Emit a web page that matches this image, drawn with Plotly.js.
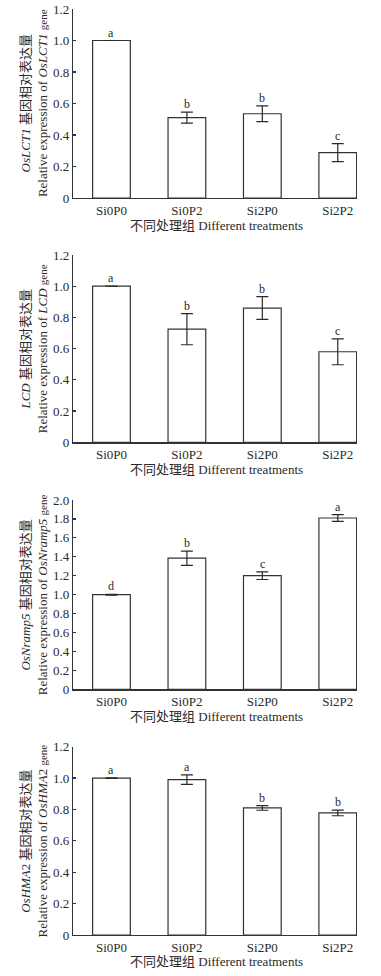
<!DOCTYPE html>
<html>
<head>
<meta charset="utf-8">
<script src="https://cdn.plot.ly/plotly-3.0.1.min.js"></script>
<style>
html,body{margin:0;padding:0;background:#fff;}
#chart{width:381px;height:976px;}
</style>
</head>
<body>
<div id="chart"></div>
<script>
const categories = ['Si0P0', 'Si0P2', 'Si2P0', 'Si2P2'];

const lct1Values = [1.00, 0.51, 0.535, 0.288];
const lct1Errors = [0, 0.035, 0.05, 0.057];
const lct1Letters = ['a', 'b', 'b', 'c'];

const lcdValues = [1.00, 0.725, 0.86, 0.58];
const lcdErrors = [0, 0.10, 0.073, 0.083];
const lcdLetters = ['a', 'b', 'b', 'c'];

const nramp5Values = [1.00, 1.385, 1.20, 1.81];
const nramp5Errors = [0.004, 0.075, 0.04, 0.035];
const nramp5Letters = ['d', 'b', 'c', 'a'];

const hma2Values = [1.00, 0.99, 0.81, 0.778];
const hma2Errors = [0.002, 0.03, 0.015, 0.018];
const hma2Letters = ['a', 'a', 'b', 'b'];

const tickVals12 = [0, 0.2, 0.4, 0.6, 0.8, 1.0, 1.2];
const tickText12 = ['0', '0.2', '0.4', '0.6', '0.8', '1.0', '1.2'];
const tickVals20 = [0, 0.2, 0.4, 0.6, 0.8, 1.0, 1.2, 1.4, 1.6, 1.8, 2.0];
const tickText20 = ['0', '0.2', '0.4', '0.6', '0.8', '1.0', '1.2', '1.4', '1.6', '1.8', '2.0'];

const yTitles = [
  '<i>OsLCT1</i> 基因相对表达量<br>Relative expression of <i>OsLCT1</i> <span style="font-size:11px">gene</span>',
  '<i>LCD</i> 基因相对表达量<br>Relative expression of <i>LCD</i> <span style="font-size:11px">gene</span>',
  '<i>OsNramp5</i> 基因相对表达量<br>Relative expression of <i>OsNramp5</i> <span style="font-size:11px">gene</span>',
  '<i>OsHMA</i>2 基因相对表达量<br>Relative expression of <i>OsHMA</i>2 <span style="font-size:11px">gene</span>'
];
const xTitle = '不同处理组 Different treatments';

const panels = [
  {v: lct1Values, e: lct1Errors, l: lct1Letters, tv: tickVals12, tt: tickText12, max: 1.2, dom: [198, 9]},
  {v: lcdValues, e: lcdErrors, l: lcdLetters, tv: tickVals12, tt: tickText12, max: 1.2, dom: [442.3, 255]},
  {v: nramp5Values, e: nramp5Errors, l: nramp5Letters, tv: tickVals20, tt: tickText20, max: 2.0, dom: [689.3, 500]},
  {v: hma2Values, e: hma2Errors, l: hma2Letters, tv: tickVals12, tt: tickText12, max: 1.2, dom: [935, 746.7]}
];

const H = 976;
const FONT = "'Liberation Serif', 'Times New Roman', 'Noto Sans CJK SC', serif";
const INK = '#2a2a2a';

const traces = [];
const annotations = [];
const layout = {
  width: 381,
  height: 976,
  margin: {l: 73, r: 23.5, t: 0, b: 0},
  paper_bgcolor: '#fff',
  plot_bgcolor: '#fff',
  showlegend: false,
  bargap: 0.5,
  font: {family: FONT, size: 13, color: INK},
  annotations: annotations
};

panels.forEach((p, i) => {
  const n = i + 1;
  const xa = n === 1 ? 'x' : 'x' + n;
  const ya = n === 1 ? 'y' : 'y' + n;
  traces.push({
    type: 'bar',
    x: categories,
    y: p.v,
    xaxis: xa,
    yaxis: ya,
    width: 0.5,
    marker: {color: '#ffffff', line: {color: '#333333', width: 1.2}},
    error_y: {type: 'data', array: p.e, visible: true, color: INK, thickness: 1.2, width: 6},
    hoverinfo: 'none'
  });
  layout['xaxis' + (n === 1 ? '' : n)] = {
    anchor: ya,
    domain: [0, 1],
    type: 'category',
    range: [-0.51, 3.255],
    showline: true,
    linecolor: '#333333',
    linewidth: 1.2,
    ticks: '',
    showgrid: false,
    zeroline: false,
    tickfont: {family: FONT, size: 13, color: INK}
  };
  layout['yaxis' + (n === 1 ? '' : n)] = {
    anchor: xa,
    domain: [1 - p.dom[0] / H, 1 - p.dom[1] / H],
    range: [0, p.max],
    tickvals: p.tv,
    ticktext: p.tt,
    ticks: 'inside',
    ticklen: 3,
    tickwidth: 1.2,
    tickcolor: '#333333',
    showline: true,
    linecolor: '#333333',
    linewidth: 1.2,
    showgrid: false,
    zeroline: false,
    tickfont: {family: FONT, size: 13, color: INK}
  };
  categories.forEach((c, j) => {
    annotations.push({
      xref: xa, yref: ya,
      x: c, y: p.v[j] + p.e[j],
      text: p.l[j],
      showarrow: false,
      yanchor: 'bottom',
      yshift: -1,
      font: {family: FONT, size: 12, color: INK}
    });
  });
  annotations.push({
    xref: 'paper', yref: ya + ' domain',
    x: 0.505, y: 0,
    yanchor: 'middle',
    yshift: -27,
    text: xTitle,
    showarrow: false,
    font: {family: FONT, size: 13, color: INK}
  });
  annotations.push({
    xref: 'paper', yref: ya + ' domain',
    x: (33.5 - 73) / (381 - 73 - 23.5), y: 0.5,
    xanchor: 'center', yanchor: 'middle',
    textangle: -90,
    text: yTitles[i],
    showarrow: false,
    font: {family: FONT, size: 13, color: INK}
  });
});

Plotly.newPlot('chart', traces, layout, {staticPlot: true, displayModeBar: false});
</script>
</body>
</html>
